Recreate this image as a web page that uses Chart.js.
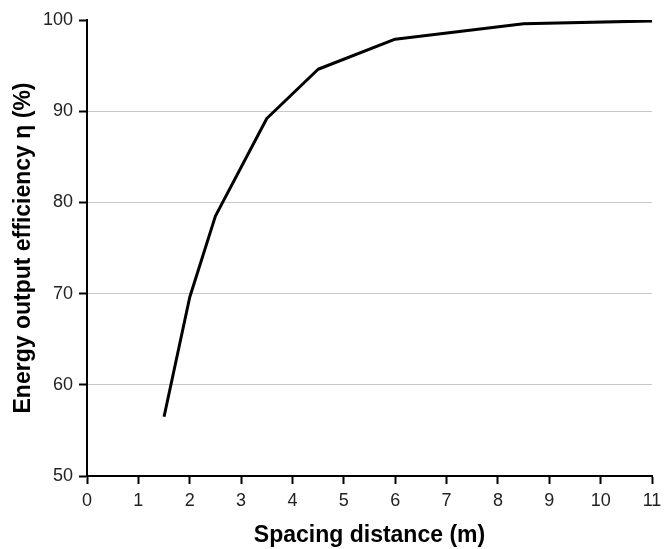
<!DOCTYPE html>
<html><head><meta charset="utf-8">
<script src="https://cdn.jsdelivr.net/npm/chart.js@4"></script>
<style>html,body{margin:0;padding:0;background:#fff}#w{width:672px;height:549px}</style>
</head><body><div id="w"><canvas id="c"></canvas></div>
<script>
const spacing = [1.5, 2, 2.5, 3.5, 4.5, 6, 8.5, 11];
const efficiency = [56.5, 69.6, 78.5, 89.2, 94.6, 97.9, 99.6, 99.9];
const xTicks = [0,1,2,3,4,5,6,7,8,9,10,11];
const yTicks = [50,60,70,80,90,100];

const pts = spacing.map((x,i)=>({x:x,y:efficiency[i]}));
const FONT = "'Liberation Sans', Arial, sans-serif";
new Chart(document.getElementById('c'), {
  type: 'scatter',
  data: { datasets: [{ data: pts, showLine: true, borderColor: '#000', borderWidth: 3, borderJoinStyle: 'round', pointRadius: 0, tension: 0, fill: false }] },
  options: {
    responsive: true, maintainAspectRatio: false, animation: false,
    plugins: { legend: {display:false}, tooltip: {enabled:false} },
    layout: { padding: { left: 10, right: 20, top: 20, bottom: 0 } },
    scales: {
      x: {
        type: 'linear', min: 0, max: 11,
        afterBuildTicks: s => { s.ticks = xTicks.map(v=>({value:v})); },
        afterFit: s => { s.height = 73; },
        grid: { color: 'rgba(0,0,0,0)', drawTicks: true, tickLength: 8, tickColor: '#000', tickWidth: 2 },
        border: { display: true, color: '#000', width: 2 },
        ticks: { color: '#222', font: { family: FONT, size: 18 }, padding: 6, maxRotation: 0 },
        title: { display: true, text: 'Spacing distance (m)', color: '#000', font: { family: FONT, size: 23, weight: 'bold' }, padding: { top: 6, bottom: 0 } }
      },
      y: {
        type: 'linear', min: 50, max: 100,
        afterBuildTicks: s => { s.ticks = yTicks.map(v=>({value:v})); },
        afterFit: s => { s.width = 77; },
        grid: { color: c => (c.tick && c.tick.value > 50 && c.tick.value < 100) ? '#c8c8c8' : 'rgba(0,0,0,0)', lineWidth: 1, drawTicks: true, tickLength: 8, tickColor: '#000', tickWidth: 2 },
        border: { display: true, color: '#000', width: 2 },
        ticks: { color: '#222', font: { family: FONT, size: 18 }, padding: 6 },
        title: { display: true, text: 'Energy output efficiency η (%)', color: '#000', font: { family: FONT, size: 23, weight: 'bold' }, padding: { top: 0, bottom: 4 } }
      }
    }
  }
});
</script></body></html>
